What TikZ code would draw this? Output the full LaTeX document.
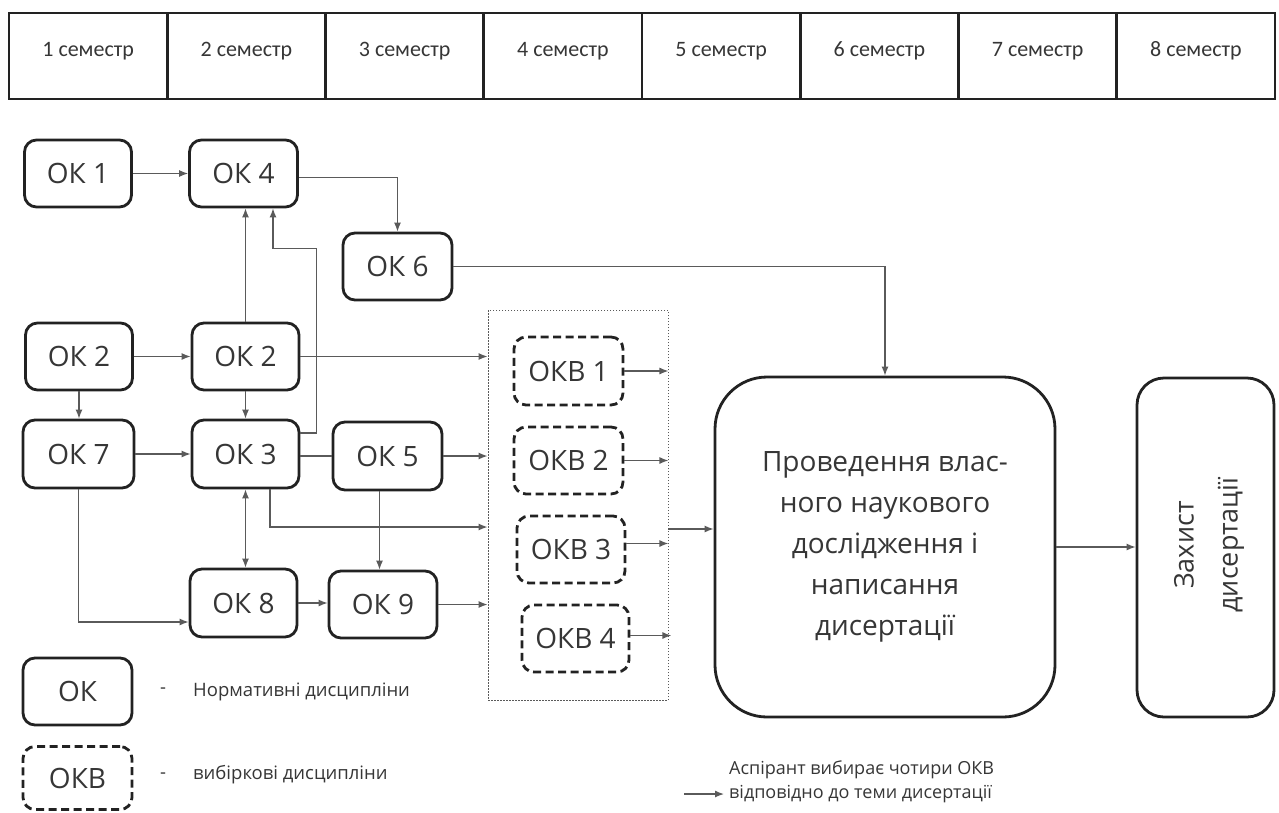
\documentclass[tikz,border=0pt]{standalone}
\usepackage{fontspec}
\setmainfont{Open Sans}
\newfontfamily\hdrfont{Carlito}
\usetikzlibrary{arrows.meta,calc}
\definecolor{txt}{HTML}{363636}
\definecolor{ln}{HTML}{222222}
\definecolor{cn}{HTML}{5A5A5A}
\begin{document}
\begin{tikzpicture}[x=1pt,y=-1pt,
  okbox/.style={draw=ln, line width=2.8pt, rounded corners=12pt, minimum width=107pt, minimum height=67pt, inner sep=0pt, text=txt, font=\fontsize{28}{32}\selectfont},
  okvbox/.style={okbox, dash pattern=on 8pt off 4.5pt},
  conn/.style={draw=cn, line width=1.3pt},
  arr/.style={conn, -{Latex[length=9pt,width=7pt]}},
  darr/.style={conn, {Latex[length=9pt,width=7pt]}-{Latex[length=9pt,width=7pt]}},
  sem/.style={text=txt, inner sep=0pt, font=\hdrfont\fontsize{22}{26}\selectfont},
  legend/.style={text=txt, inner sep=0pt, anchor=west, font=\fontsize{18.5}{24}\selectfont},
]
\useasboundingbox[fill=white] (0,0) rectangle (1279,812);

% header
\draw[ln, line width=2.7pt] (9,13) rectangle (1275,99);
\foreach \i in {1,...,7} \draw[ln, line width=2.7pt] ({9+\i*158.25},13) -- ({9+\i*158.25},99);
\foreach \i in {1,...,8} \node[sem] (s\i) at ({9+(\i-0.5)*158.25},51) {\i\ семестр};

% OK nodes
\node[okbox] (ok1) at (78,173.5) {ОК 1};
\node[okbox, minimum width=108pt] (ok4) at (243.5,173.5) {ОК 4};
\node[okbox, minimum width=109pt] (ok6) at (397.5,266.5) {ОК 6};
\node[okbox] (ok2a) at (79,356.5) {ОК 2};
\node[okbox] (ok2b) at (245.5,356.5) {ОК 2};
\node[okbox, minimum width=111pt, minimum height=68pt] (ok7) at (78.5,454) {ОК 7};
\node[okbox, minimum height=68pt] (ok3) at (245.5,454) {ОК 3};
\node[okbox, minimum width=109pt, minimum height=68pt] (ok5) at (387.5,456) {ОК 5};
\node[okbox, minimum height=68pt] (ok8) at (243.5,603) {ОК 8};
\node[okbox, minimum width=108pt] (ok9) at (383,604.5) {ОК 9};

% elective frame
\node[draw=cn, line width=0.9pt, dash pattern=on 1.5pt off 1.5pt, minimum width=180pt, minimum height=390pt, inner sep=0pt] (frame) at (578,505) {};
\node[okvbox, minimum width=109pt, minimum height=68pt] (okv1) at (568.5,371) {ОКВ 1};
\node[okvbox, minimum width=109pt] (okv2) at (568.5,460.5) {ОКВ 2};
\node[okvbox, minimum width=108pt] (okv3) at (571,549.5) {ОКВ 3};
\node[okvbox] (okv4) at (575.5,638.5) {ОКВ 4};

% big boxes
\node[draw=ln, line width=2.8pt, rounded corners=52pt, minimum width=340pt, minimum height=340pt, inner sep=0pt, align=center, text=txt, font=\fontsize{28}{41}\selectfont] (big) at (885,547) {Проведення влас-\\ного наукового\\дослідження і\\написання\\дисертації};
\node[draw=ln, line width=2.8pt, rounded corners=27pt, minimum width=137pt, minimum height=339pt, inner sep=0pt] (zah) at (1205.5,547.5) {};
\node[rotate=90, align=center, inner sep=0pt, text=txt, font=\fontsize{27}{44}\selectfont] (zaht) at (1209,545) {Захист\\дисертації};

% connectors
\draw[arr] (ok1) -- (ok4);
\draw[arr] ($(ok4.east)+(0,4)$) -| (ok6.north);
\draw[arr] (ok6.east) -| (big.north);
\draw[arr] (ok2b.north) -- (ok2b.north |- ok4.south);
\draw[arr] ($(ok3.east)+(0,-21)$) -| ($(ok4.south)+(73,40)$) -| ($(ok4.south)+(29.5,0)$);
\draw[arr] (ok2a) -- (ok2b);
\draw[arr] (ok2a.south) -- (ok2a.south |- ok7.north);
\draw[arr] (ok2b.south) -- (ok3.north);
\draw[arr] (ok7) -- (ok3);
\draw[conn] (ok3.east |- ok5.west) -- (ok5.west);
\draw[arr] (ok5.east) -- (ok5.east -| frame.west);
\draw[arr] (ok2b.east) -- (ok2b.east -| frame.west);
\draw[arr] ($(ok3.south)+(24.5,0)$) |- ($(frame.west)+(0,22)$);
\draw[darr] (ok3.south) -- (ok3.south |- ok8.north);
\draw[arr] (ok7.south) |- ($(ok8.west)+(0,19)$);
\coordinate (c5) at ($(ok5.south)+(-8,0)$);
\draw[arr] (c5) -- (c5 |- ok9.north);
\draw[arr] (ok8.east) -- (ok8.east -| ok9.west);
\draw[arr] (ok9.east) -- (ok9.east -| frame.west);
\draw[arr] (okv1.east) -- (okv1.east -| frame.east);
\draw[arr] (okv2.east) -- (okv2.east -| frame.east);
\draw[arr] ($(okv3.east)+(0,-6)$) -- ($(okv3.east -| frame.east)+(0,-6)$);
\draw[arr] ($(okv4.east)+(0,-3)$) -- ($(okv4.east -| frame.east)+(3,-3)$);
\coordinate (fo) at ($(frame.east)+(0,24)$);
\draw[arr] (fo) -- (fo -| big.west);
\draw[arr] (big.east) -- (big.east -| zah.west);

% legend
\node[okbox, minimum width=109pt] (lok) at (77.5,691.5) {ОК};
\node[text=txt, inner sep=0pt, font=\fontsize{18.5}{24}\selectfont] (ld1) at (163,691) {-};
\node[legend] (lt1) at (193,692) {Нормативні дисципліни};
\node[okvbox, minimum width=109pt, minimum height=63pt] (lokv) at (77.5,778) {ОКВ};
\node[text=txt, inner sep=0pt, font=\fontsize{18.5}{24}\selectfont] (ld2) at (163,776) {-};
\node[legend] (lt2) at (193,775) {вибіркові дисципліни};

\node[legend, align=left, font=\fontsize{18}{24}\selectfont] (lt3) at (729,782) {Аспірант вибирає чотири ОКВ\\відповідно до теми дисертації};
\coordinate (la) at (684,794);
\draw[arr] (la) -- ($(lt3.west |- la)+(-5,0)$);
\end{tikzpicture}
\end{document}
